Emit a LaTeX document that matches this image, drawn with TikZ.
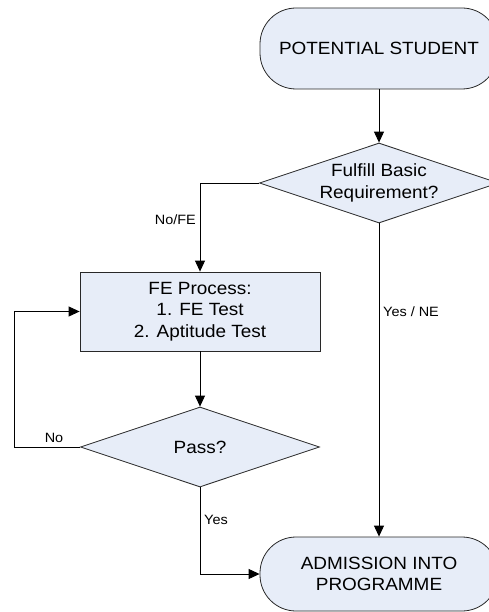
\documentclass[tikz,border=0pt]{standalone}
\usepackage{fontspec}
\setmainfont{Liberation Sans}[FakeStretch=1.07]
\usetikzlibrary{shapes.geometric,arrows.meta}
\definecolor{boxfill}{RGB}{231,237,248}
\definecolor{edge}{RGB}{40,40,40}
\begin{document}
\begin{tikzpicture}[x=1pt,y=-1pt,
  every node/.style={font=\fontsize{17.7}{21.5}\selectfont, text=black},
  term/.style={draw=edge, fill=boxfill, line width=0.8pt, rectangle, rounded corners=36pt, minimum width=238pt, inner sep=0pt, align=center},
  procbox/.style={draw=edge, fill=boxfill, line width=0.8pt, rectangle, minimum width=240pt, minimum height=79pt, inner sep=0pt, align=center},
  decbox/.style={draw=edge, fill=boxfill, line width=0.8pt, diamond, minimum width=239pt, minimum height=80pt, inner sep=0pt},
  conn/.style={draw=black, line width=0.9pt, -{Triangle[length=11pt,width=10pt]}},
  lab/.style={font=\fontsize{13.5}{16}\selectfont, inner sep=0pt}]
\useasboundingbox (0,0) rectangle (489,612);
\clip (0,0) rectangle (489,612);
\node[term, minimum height=81pt] (start) at (379,48.5) {POTENTIAL STUDENT};
\node[decbox, label={[align=center]center:Fulfill Basic\\Requirement?}] (d1) at (379,183) {};
\node[procbox] (fe) at (200,311.5) {FE Process:\\1. FE Test\\2. Aptitude Test};
\node[decbox, label={center:Pass?}] (d2) at (200,447) {};
\node[term, minimum height=74pt] (adm) at (379,574) {ADMISSION INTO\\PROGRAMME};
\coordinate (loopA) at (14,447);
\coordinate (loopB) at (14,311.5);
\draw[conn] (start.south) -- (d1.north);
\draw[conn] (d1.west) -| (fe.north);
\node[lab, anchor=east] (lnofe) at (196,220) {No/FE};
\draw[conn] (fe.south) -- (d2.north);
\draw[conn] (d2.west) -- (loopA) -- (loopB) -- (fe.west);
\node[lab] (lno) at (54,438) {No};
\draw[conn] (d2.south) |- (adm.west);
\node[lab, anchor=west] (lyes) at (204,520) {Yes};
\draw[conn] (d1.south) -- (adm.north);
\node[lab, anchor=west] (lyesne) at (383,312) {Yes / NE};
\end{tikzpicture}
\end{document}
